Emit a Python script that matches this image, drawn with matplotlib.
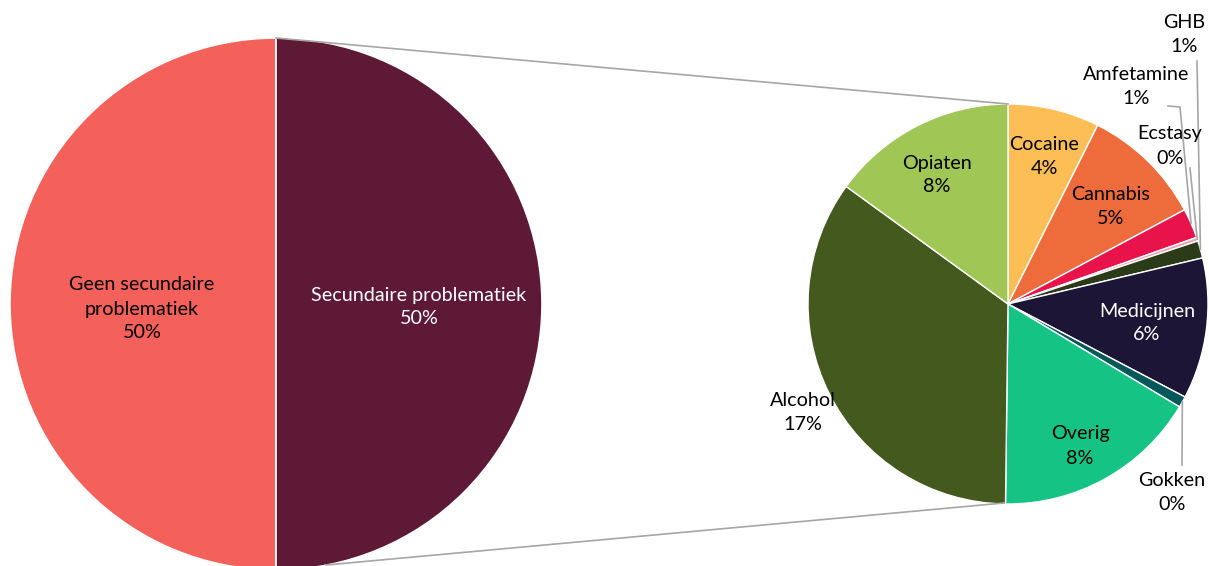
import matplotlib.pyplot as plt
import numpy as np

plt.rcParams['font.family'] = ['Lato', 'DejaVu Sans']

# hoofdcirkel
hoofd_labels = ['Geen secundaire\nproblematiek', 'Secundaire problematiek']
hoofd_waarden = [50, 50]
hoofd_kleuren = ['#F4605A', '#5E1936']

# uitsplitsing secundaire problematiek (% van totaal)
sub_labels = ['Cocaine', 'Cannabis', 'Amfetamine', 'Ecstasy', 'GHB',
              'Medicijnen', 'Gokken', 'Overig', 'Alcohol', 'Opiaten']
sub_waarden = [3.7, 4.9, 1.2, 0.15, 0.7, 5.7, 0.45, 8.3, 17.4, 7.5]
sub_kleuren = ['#FDBF55', '#EE6C3B', '#E8134B', '#F2A0B0', '#2B3A17',
               '#1D1535', '#05585A', '#15C384', '#44591E', '#A0C655']

W, H = 1209, 566
FS = 14.2
LS = 1.5
fig = plt.figure(figsize=(W / 100, H / 100), dpi=100)
ax = fig.add_axes([0, 0, 1, 1])

# linker cirkel
lc, lr = (276, 262), 266
ax.pie(hoofd_waarden, colors=hoofd_kleuren, startangle=90, counterclock=True,
       center=lc, radius=lr, wedgeprops=dict(edgecolor='white', linewidth=1.2))
ax.text(142, H - 309, f'{hoofd_labels[0]}\n{hoofd_waarden[0]}%', ha='center', va='center',
        fontsize=FS, color='black', linespacing=LS)
ax.text(419, H - 307, f'{hoofd_labels[1]}\n{hoofd_waarden[1]}%', ha='center', va='center',
        fontsize=FS, color='white', linespacing=LS)

# rechter cirkel
rc, rr = (1008, 262), 200
wedges, _ = ax.pie(sub_waarden, colors=sub_kleuren, startangle=90, counterclock=False,
                   center=rc, radius=rr,
                   wedgeprops=dict(edgecolor='white', linewidth=1))

ax.set_xlim(0, W)
ax.set_ylim(0, H)
ax.set_aspect('equal')
ax.axis('off')

# verbindingslijnen
ax.plot([lc[0], rc[0]], [lc[1] + lr, rc[1] + rr], color='#A6A6A6', lw=1.2)
ax.plot([lc[0] + 50, rc[0] - 4], [lc[1] - lr + 5, rc[1] - rr + 1], color='#A6A6A6', lw=1.2)

# label posities (pixels vanaf linksboven)
label_pos = {
    'Cocaine': (1044, 156), 'Cannabis': (1111, 206), 'Amfetamine': (1136, 86),
    'Ecstasy': (1170, 146), 'GHB': (1184, 34), 'Medicijnen': (1147, 323),
    'Gokken': (1172, 493), 'Overig': (1080, 446), 'Alcohol': (803, 412),
    'Opiaten': (937, 175),
}
wit = {'Medicijnen'}
leaders = {
    'Amfetamine': [(1168, 106), (1180, 107)],
    'Ecstasy': [(1190, 168)],
    'GHB': [(1197, 61)],
    'Gokken': [(1182, 465)],
}

for w, lab, val in zip(wedges, sub_labels, sub_waarden):
    x, y = label_pos[lab]
    pct = int(val + 0.5)
    ax.text(x, H - y, f'{lab}\n{pct}%', ha='center', va='center', fontsize=FS,
            color='white' if lab in wit else 'black', linespacing=LS)
    if lab in leaders:
        mid = np.deg2rad((w.theta1 + w.theta2) / 2)
        ex = rc[0] + rr * np.cos(mid)
        ey = rc[1] + rr * np.sin(mid)
        pts = [(px, H - py) for px, py in leaders[lab]] + [(ex, ey)]
        ax.plot([p[0] for p in pts], [p[1] for p in pts], color='#A6A6A6', lw=1.2)

fig.savefig('out.png', dpi=100)
